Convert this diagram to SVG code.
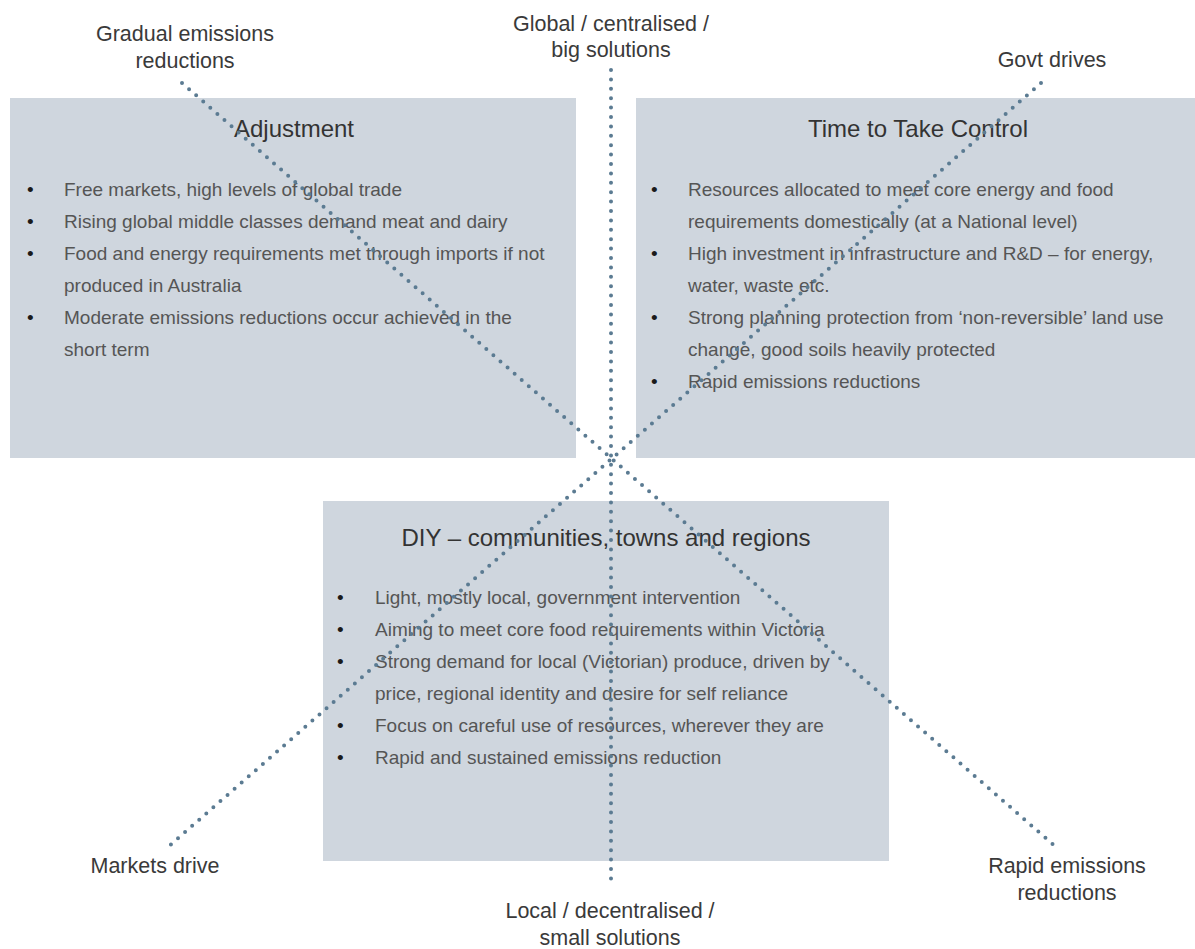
<svg xmlns="http://www.w3.org/2000/svg" width="1195" height="949" viewBox="0 0 1195 949">
<style>
.box{fill:#cfd6de}
.hd{font-family:"Liberation Sans",Arial,sans-serif;font-size:24px;fill:#333;text-anchor:middle}
.bt{font-family:"Liberation Sans",Arial,sans-serif;font-size:19px;fill:#555}
.bl{font-family:"Liberation Sans",Arial,sans-serif;font-size:19px;fill:#1a1a1a}
.lb{font-family:"Liberation Sans",Arial,sans-serif;font-size:21.5px;fill:#3a3a3a;text-anchor:middle}
.dot{stroke:#5b7b92;stroke-width:4;stroke-linecap:round;stroke-dasharray:0 9.4;fill:none}
</style>
<rect width="1195" height="949" fill="#fff"/>
<g id="adjustment">
<rect class="box" x="10" y="98" width="566" height="360"/>
<text class="hd" x="294" y="137">Adjustment</text>
<text class="bl" x="27" y="196">•</text><text class="bt" x="64" y="196">Free markets, high levels of global trade</text>
<text class="bl" x="27" y="228">•</text><text class="bt" x="64" y="228">Rising global middle classes demand meat and dairy</text>
<text class="bl" x="27" y="260">•</text><text class="bt" x="64" y="260">Food and energy requirements met through imports if not</text>
<text class="bt" x="64" y="292">produced in Australia</text>
<text class="bl" x="27" y="324">•</text><text class="bt" x="64" y="324">Moderate emissions reductions occur achieved in the</text>
<text class="bt" x="64" y="356">short term</text>
</g>
<g id="time-to-take-control">
<rect class="box" x="636" y="98" width="566" height="360"/>
<text class="hd" x="918" y="137">Time to Take Control</text>
<text class="bl" x="651" y="196">•</text><text class="bt" x="688" y="196">Resources allocated to meet core energy and food</text>
<text class="bt" x="688" y="228">requirements domestically (at a National level)</text>
<text class="bl" x="651" y="260">•</text><text class="bt" x="688" y="260">High investment in infrastructure and R&amp;D – for energy,</text>
<text class="bt" x="688" y="292">water, waste etc.</text>
<text class="bl" x="651" y="324">•</text><text class="bt" x="688" y="324">Strong planning protection from ‘non-reversible’ land use</text>
<text class="bt" x="688" y="356">change, good soils heavily protected</text>
<text class="bl" x="651" y="388">•</text><text class="bt" x="688" y="388">Rapid emissions reductions</text>
</g>
<g id="diy">
<rect class="box" x="323" y="501" width="566" height="360"/>
<text class="hd" x="606" y="546">DIY – communities, towns and regions</text>
<text class="bl" x="337" y="604">•</text><text class="bt" x="375" y="604">Light, mostly local, government intervention</text>
<text class="bl" x="337" y="636">•</text><text class="bt" x="375" y="636">Aiming to meet core food requirements within Victoria</text>
<text class="bl" x="337" y="668">•</text><text class="bt" x="375" y="668">Strong demand for local (Victorian) produce, driven by</text>
<text class="bt" x="375" y="700">price, regional identity and desire for self reliance</text>
<text class="bl" x="337" y="732">•</text><text class="bt" x="375" y="732">Focus on careful use of resources, wherever they are</text>
<text class="bl" x="337" y="764">•</text><text class="bt" x="375" y="764">Rapid and sustained emissions reduction</text>
</g>
<g id="connectors">
<line class="dot" x1="611" y1="70" x2="611" y2="885"/>
<line class="dot" x1="182" y1="83" x2="1056" y2="847"/>
<line class="dot" x1="1041" y1="83" x2="168" y2="847"/>
</g>
<g id="labels">
<text class="lb" x="185" y="41">Gradual emissions</text>
<text class="lb" x="185" y="68">reductions</text>
<text class="lb" x="611" y="31">Global / centralised /</text>
<text class="lb" x="611" y="57">big solutions</text>
<text class="lb" x="1052" y="67">Govt drives</text>
<text class="lb" x="155" y="873">Markets drive</text>
<text class="lb" x="610" y="918">Local / decentralised /</text>
<text class="lb" x="610" y="945">small solutions</text>
<text class="lb" x="1067" y="873">Rapid emissions</text>
<text class="lb" x="1067" y="900">reductions</text>
</g>
</svg>
